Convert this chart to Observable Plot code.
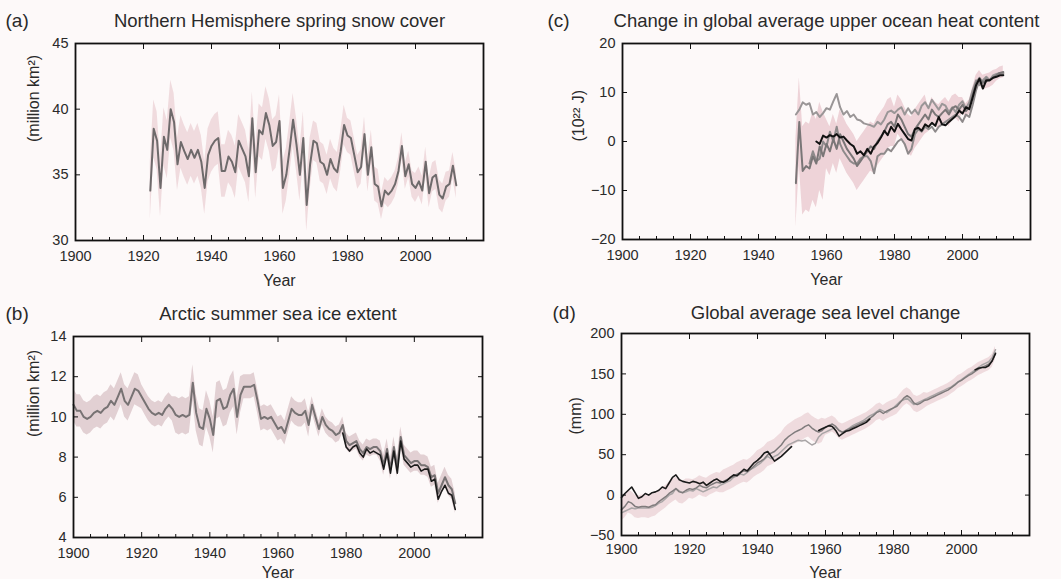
<!DOCTYPE html>
<html><head><meta charset="utf-8">
<script src="https://cdn.jsdelivr.net/npm/d3@7"></script>
<script src="https://cdn.jsdelivr.net/npm/@observablehq/plot@0.6"></script>
<style>
body{margin:0;background:#fdf9f9;}
#wrap{position:relative;width:1061px;height:579px;overflow:hidden;font-family:"Liberation Sans",Arial,sans-serif;}
.panel{position:absolute;}
.panel svg{background:transparent !important;overflow:visible;}
</style></head><body><div id="wrap"></div>
<script>
// ---------- Data ----------
// (a) Northern Hemisphere spring snow cover (million km²), from 1922
const snowStart = 1922;
const snowCover = [33.8,38.5,37.6,34.0,37.9,36.9,40.0,39.0,35.8,37.5,
  36.8,36.2,36.9,36.3,36.9,36.0,34.0,36.5,37.2,37.6,
  37.8,35.3,35.3,36.4,36.0,35.2,37.6,37.0,36.4,34.9,
  39.3,35.2,38.4,38.1,39.7,38.8,37.2,37.5,39.1,34.0,
  35.0,37.0,39.2,37.3,35.0,37.8,32.7,35.8,37.6,37.4,
  36.0,35.8,35.0,36.2,35.5,35.2,36.8,38.8,38.0,37.8,
  36.5,35.2,35.6,38.1,35.0,37.1,34.3,34.1,32.6,33.8,
  33.5,33.8,34.3,35.3,37.2,34.9,35.8,34.3,34.0,34.5,
  33.8,36.0,33.6,34.8,35.0,33.5,33.2,34.1,34.3,35.7,
  34.2];
// half-width of the uncertainty band, per decade 1920s..2010s
const snowSigma = [2.2,2.0,2.0,2.0,2.0,1.5,1.3,1.0,1.1,1.0];

// (b) Arctic summer sea ice extent (million km²), from 1900
const iceStart = 1900;
const iceMain = [10.6,10.3,10.3,10.0,9.9,10.0,10.2,10.3,10.2,10.4,
  10.5,10.8,10.6,11.0,11.4,10.8,10.6,11.0,11.4,11.3,
  11.0,10.7,10.4,10.2,10.1,10.2,10.1,10.4,10.6,10.4,
  10.1,10.0,10.1,10.0,10.1,11.7,10.2,9.5,9.4,10.4,
  9.9,9.1,10.8,10.9,10.4,10.5,11.1,11.4,10.0,11.1,
  11.5,11.5,11.5,11.6,10.8,9.9,10.0,9.9,10.0,9.7,
  9.4,9.5,9.2,9.8,10.4,10.2,10.1,10.1,10.3,9.6,
  10.6,10.0,9.4,10.0,9.6,9.4,9.3,9.1,9.2,9.6,
  8.8,8.6,8.7,8.8,8.4,8.2,8.5,8.4,8.5,8.5,
  8.3,7.6,8.4,7.4,8.5,7.5,9.0,8.1,7.9,7.7,
  7.8,7.8,7.6,7.6,7.5,7.0,7.1,6.2,6.6,7.0,
  6.6,6.4,5.7];
const iceSatStart = 1979;
const iceSat = [9.2,8.5,8.3,8.5,8.6,8.2,8.0,8.4,8.2,8.3,
  8.2,8.1,7.4,8.2,7.2,8.3,7.2,8.8,7.9,7.7,
  7.5,7.6,7.6,7.3,7.4,7.4,6.8,6.9,5.9,6.3,
  6.6,6.2,6.1,5.4];
// band half-width per decade 1900s..2010s
const iceSigma = [0.8,0.8,0.6,0.9,0.9,0.6,0.6,0.4,0.4,0.5,0.5,0.5];

// (c) Change in global average upper ocean heat content (10²² J)
const ohcUpperStart = 1951;
const ohcUpper = [5.5,6.5,8.0,7.5,7.8,5.5,6.0,5.0,5.8,6.8,
  6.5,8.2,9.7,7.0,5.5,6.2,5.0,5.5,4.5,4.3,
  3.7,3.5,3.3,3.0,4.0,3.5,4.5,6.0,6.3,5.8,
  6.5,7.0,5.5,6.8,5.7,6.5,5.5,7.3,8.0,6.8,
  8.5,7.5,6.5,7.7,7.3,6.0,7.0,6.0,7.5,8.2,
  6.8,8.0,10.5,12.5,11.5,12.5,13.2,12.5,13.5,13.8,
  14.0,13.8];
const ohcMidStart = 1951;
const ohcMid = [-8.5,4.0,-6,-5,-5.5,-3,-4.5,-1,-3,-0.5,
  -2,0.5,-1.5,1.5,0,-1.5,-2.5,-3.5,-5,-4,
  -3,-2,-1,-1.5,0,1.0,2.0,3.5,4.0,3.0,
  5.5,4.5,3.0,1.5,1.0,2.5,3.5,4.5,5.5,4.5,
  6.5,5.5,5.0,5.8,6.5,5.5,6.8,7.2,6.5,7.5,
  6.2,7.0,9.5,12.0,13.0,12.0,12.3,12.5,13.0,13.5,
  14.0,14.2];
const ohcLowStart = 1955;
const ohcLow = [-4.5,-2,-4,-3.5,0,-1,
  2,0,3,-0.5,-2,-3,-4,-4.5,-4.5,-3.5,
  -3,-3,-4,-6.5,-3,-2.5,-2.5,-1.5,-2,-1,
  0,0.5,-0.5,-2.5,-1.5,1.5,2.5,2.0,3.0,2.5,
  3.0,2.0,3.0,3.5,4.0,4.5,5.0,5.5,5.0,4.0,
  5.5,5.0,7.5,10.5,12.5,12.0,13.0,12.5,13.2,13.5,
  14.0,14.0];
const ohcBlackStart = 1957;
const ohcBlack = [0.0,-0.5,1.2,0.8,1.3,1.0,1.5,0.8,1.0,0.2,
  -0.5,-1.0,-2.5,-2.0,-2.8,-1.5,-2.5,-1.0,-0.3,0.8,
  2.2,1.3,3.0,2.0,3.6,2.5,1.5,0.5,0.2,2.5,
  2.8,2.2,3.5,3.0,3.8,3.2,5.0,3.5,3.3,4.0,
  4.6,5.2,6.3,5.7,7.0,6.6,9.0,11.5,12.8,10.8,
  12.5,12.5,13.0,13.2,13.5,13.5];
// band half-width per decade 1950s..2010s (around ohcMid)
const ohcSigma = [9,5,5,4,2.5,1.5,1.2];

// (d) Global average sea level change (mm), from 1900
const slStart = 1900;
const slBlack = [-3,2,6,10,3,-4,-2,2,0,3,
  4,6,10,8,15,22,25,19,17,16,
  15,17,16,14,16,12,15,18,20,17,
  16,18,22,25,24,28,32,30,35,40,
  43,47,52,54,48,42,45,48,52,56,
  60,null,null,null,null,null,null,null,80,82,
  84,86,85,80,73,76,79,80,82,84,
  86,88,90,94,null,null,null,null,null,null,
  null,null,null,null,null,null,null,null,null,null,
  null,null,null,null,null,null,null,null,null,null,
  null,null,null,null,155,157,158,158,160,166,
  175];
const slMid = [-18,-14,-8,-10,-14,-15,-14,-14,-15,-13,
  -12,-8,-5,-2,2,5,8,4,3,6,
  8,7,9,12,10,9,12,14,16,15,
  17,19,21,23,26,28,30,29,32,36,
  40,42,45,50,52,54,58,62,68,72,
  75,78,80,82,85,87,83,80,78,80,
  84,86,88,85,80,78,80,82,84,86,
  88,90,92,95,98,102,104,101,104,106,
  108,110,115,120,123,120,114,112,114,117,
  118,120,122,124,126,128,130,133,136,140,
  142,145,148,150,153,156,158,160,162,166,
  176];
const slLow = [-22,-20,-18,-16,-17,-16,-16,-16,-16,-15,
  -13,-10,-8,-4,0,2,8,5,3,4,
  6,5,8,6,4,6,8,10,9,12,
  14,16,18,22,24,26,25,28,32,34,
  37,40,44,48,45,48,50,54,58,62,
  64,66,68,67,68,65,62,64,72,76,
  78,80,82,84,80,77,80,83,86,88,
  90,92,95,98,100,103,106,104,102,105,
  108,112,116,118,120,116,112,114,116,118,
  120,122,124,126,128,130,132,134,137,140,
  143,146,149,152,155,158,161,163,165,170,
  180];
// band half-width per decade 1900s..2010s (around slMid)
const slSigma = [14,14,12,14,15,15,10,10,10,8,8,8];

// axis ticks
const xLabels = [1900,1920,1940,1960,1980,2000];
const xMajor = [1920,1940,1960,1980,2000];
const xMinor = [1905,1910,1915,1925,1930,1935,1945,1950,1955,1965,1970,1975,1985,1990,1995,2005,2010,2015];

// ---------- helpers ----------
function series(start, vals) {
  return vals.map((v, i) => ({year: start + i, v}));
}
function band(start, vals, sigma, sigmaDecade) {
  return vals.map((v, i) => {
    const y = start + i;
    const s = sigma[Math.floor(y / 10) - sigmaDecade / 10];
    return {year: y, lo: v - s, hi: v + s};
  });
}

const FONT = "Liberation Sans, Arial, sans-serif";

function makePanel(c) {
  const marks = [];
  for (const b of c.bands) marks.push(Plot.areaY(b.data, {x: "year", y1: "lo", y2: "hi", fill: b.fill, fillOpacity: b.opacity}));
  for (const l of c.lines) marks.push(Plot.line(l.data, {x: "year", y: "v", stroke: l.stroke, strokeWidth: l.width, defined: d => d.v != null}));
  marks.push(
    Plot.axisX({anchor: "bottom", ticks: xLabels, tickSize: 0, tickPadding: c.xPad, tickFormat: d => String(d), fontSize: 14.5, fill: "#2a2a2a", label: null}),
    Plot.axisX({anchor: "bottom", ticks: xMajor, tickSize: -5, fill: "none", stroke: "#111", label: null}),
    Plot.axisX({anchor: "bottom", ticks: xMinor, tickSize: -3, fill: "none", stroke: "#111", label: null}),
    Plot.axisX({anchor: "top", ticks: xMajor, tickSize: -5, fill: "none", stroke: "#111", label: null}),
    Plot.axisY({anchor: "left", ticks: c.yTicks, tickSize: 0, tickPadding: 7, fontSize: 14.5, fill: "#2a2a2a", label: null}),
    Plot.axisY({anchor: "left", ticks: c.yTicks, tickSize: -5, fill: "none", stroke: "#111", label: null}),
    Plot.axisY({anchor: "right", ticks: c.yTicks, tickSize: -5, fill: "none", stroke: "#111", label: null}),
    Plot.frame({stroke: "#111", strokeWidth: 1.8}),
    Plot.text([c.title], {frameAnchor: "top", dy: c.titleDy, lineAnchor: "bottom", fontSize: 18.5, fill: "#2a2a2a"}),
    Plot.text([c.letter], {frameAnchor: "top-left", dx: c.letterDx, dy: c.titleDy, textAnchor: "start", lineAnchor: "bottom", fontSize: 19, fill: "#2a2a2a"}),
    Plot.text([c.ylabel], {frameAnchor: "left", dx: c.ylabelDx, rotate: -90, fontSize: 16, fill: "#2a2a2a"}),
    Plot.text(["Year"], {frameAnchor: "bottom", dy: c.yearDy, lineAnchor: "bottom", fontSize: 16, fill: "#2a2a2a"})
  );
  const svg = Plot.plot({
    width: c.width, height: c.height,
    marginTop: c.m[0], marginRight: c.m[1], marginBottom: c.m[2], marginLeft: c.m[3],
    style: {fontFamily: FONT, background: "transparent", overflow: "visible"},
    x: {domain: [1900, 2020]},
    y: {domain: c.yDomain},
    marks
  });
  const div = document.createElement("div");
  div.className = "panel";
  div.style.left = c.left + "px";
  div.style.top = c.top + "px";
  div.appendChild(svg);
  document.getElementById("wrap").appendChild(div);
}

// (a)
makePanel({
  left: 0, top: 0, width: 530, height: 290, m: [43, 47, 50, 75],
  yDomain: [30, 45], yTicks: [30, 35, 40, 45], xPad: 10,
  title: "Northern Hemisphere spring snow cover", letter: "(a)", letterDx: -70, titleDy: -17,
  ylabel: "(million km²)", ylabelDx: -42, yearDy: 45,
  bands: [{data: band(snowStart, snowCover, snowSigma, 1920), fill: "#ecd3d7", opacity: 0.8}],
  lines: [{data: series(snowStart, snowCover), stroke: "#6e6a6b", width: 2}]
});
// (c)
makePanel({
  left: 530, top: 0, width: 531, height: 290, m: [43, 31, 51, 92],
  yDomain: [-20, 20], yTicks: [-20, -10, 0, 10, 20], xPad: 10,
  title: "Change in global average upper ocean heat content", letter: "(c)", letterDx: -75, titleDy: -17,
  ylabel: "(10²² J)", ylabelDx: -44, yearDy: 45,
  bands: [{data: band(ohcMidStart, ohcMid, ohcSigma, 1950), fill: "#e8c6cc", opacity: 0.75}],
  lines: [
    {data: series(ohcUpperStart, ohcUpper), stroke: "#9a9697", width: 2},
    {data: series(ohcLowStart, ohcLow), stroke: "#8e8a8b", width: 2},
    {data: series(ohcMidStart, ohcMid), stroke: "#7a7677", width: 2},
    {data: series(ohcBlackStart, ohcBlack), stroke: "#111", width: 2}
  ]
});
// (b)
makePanel({
  left: 0, top: 290, width: 530, height: 289, m: [46, 48, 42, 73],
  yDomain: [4, 14], yTicks: [4, 6, 8, 10, 12, 14], xPad: 10,
  title: "Arctic summer sea ice extent", letter: "(b)", letterDx: -68, titleDy: -17,
  ylabel: "(million km²)", ylabelDx: -40, yearDy: 40,
  bands: [{data: band(iceStart, iceMain, iceSigma, 1900), fill: "#d8c2c5", opacity: 0.75}],
  lines: [
    {data: series(iceStart, iceMain), stroke: "#777273", width: 2},
    {data: series(iceSatStart, iceSat), stroke: "#1a1a1a", width: 1.6}
  ]
});
// (d)
makePanel({
  left: 530, top: 290, width: 531, height: 289, m: [43, 32, 44, 91],
  yDomain: [-50, 200], yTicks: [-50, 0, 50, 100, 150, 200], xPad: 8,
  title: "Global average sea level change", letter: "(d)", letterDx: -69, titleDy: -15,
  ylabel: "(mm)", ylabelDx: -46, yearDy: 42,
  bands: [{data: band(slStart, slMid, slSigma, 1900), fill: "#ead0d4", opacity: 0.75}],
  lines: [
    {data: series(slStart, slLow), stroke: "#a9a5a6", width: 1.5},
    {data: series(slStart, slMid), stroke: "#7f7b7c", width: 1.5},
    {data: series(slStart, slBlack), stroke: "#1a1a1a", width: 1.6}
  ]
});
</script>
</body></html>
